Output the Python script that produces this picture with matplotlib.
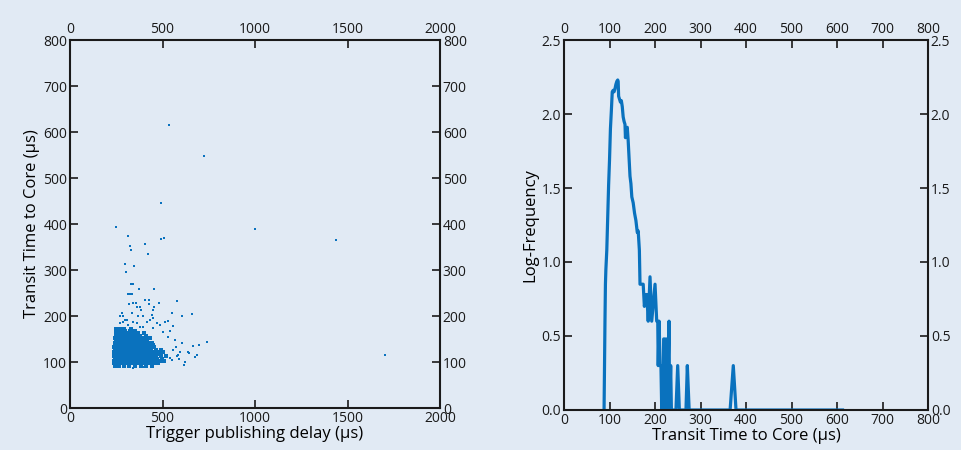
import matplotlib.pyplot as plt

# couleurs
bg = '#e1eaf4'
blue = '#0a72be'

# --- nuage de points : délai de publication vs temps de transit ---
# points isolés
outlier_delay = [535, 724, 492, 1000, 1438, 249, 1703, 313, 322, 330, 404, 492, 508, 420,
                 296, 304, 348, 330, 340, 371, 456, 312, 326, 335, 407, 429, 578, 479,
                 320, 342, 355, 380, 425, 553, 661, 607, 740, 695, 667, 686, 676, 641, 618,
                 360, 384, 456, 447, 279, 288, 270, 297, 306, 337, 369, 393, 441, 450,
                 514, 531, 555, 243, 256, 270, 285, 486, 472, 414, 432, 342, 360, 315,
                 378, 396, 450, 504, 540, 531, 567, 604, 639, 594, 585, 558, 573, 576,
                 591, 540, 549, 396, 342, 270, 243, 622]
outlier_transit = [615, 548, 446, 389, 365, 393, 115, 373, 352, 343, 356, 368, 370, 335,
                   312, 296, 308, 269, 269, 258, 258, 248, 247, 248, 235, 235, 233, 229,
                   227, 228, 228, 220, 226, 206, 205, 199, 144, 138, 135, 115, 111, 120, 93,
                   220, 213, 220, 213, 206, 199, 199, 191, 191, 206, 199, 199, 202, 195,
                   186, 189, 178, 173, 173, 184, 188, 180, 184, 188, 191, 188, 184, 180,
                   177, 177, 173, 166, 168, 155, 148, 141, 122, 122, 115, 126, 132, 112,
                   107, 108, 104, 90, 88, 91, 93, 100]

# coeur dense du nuage : un niveau de transit -> délais observés
core_transit = [92, 97, 102, 107, 112, 117, 122, 127, 132, 137, 142, 147, 152, 157, 162, 167, 172]
core_delay = [
    [245, 262, 290, 318, 352, 385, 410, 445],
    [240, 255, 272, 288, 305, 322, 340, 358, 376, 395, 412, 430, 452, 478],
    [238, 250, 266, 281, 297, 313, 329, 345, 361, 377, 393, 409, 425, 441, 460, 485, 510],
    [243, 258, 274, 290, 306, 322, 338, 354, 370, 386, 402, 418, 434, 452, 472, 498],
    [238, 251, 266, 282, 298, 314, 330, 346, 362, 378, 394, 410, 426, 443, 463, 490, 520],
    [243, 258, 274, 290, 306, 322, 338, 354, 370, 386, 402, 418, 436, 456, 480],
    [240, 251, 266, 282, 298, 314, 330, 346, 362, 378, 394, 410, 428, 448, 470, 505],
    [245, 258, 274, 290, 306, 322, 338, 354, 370, 386, 402, 420, 440, 462, 490],
    [240, 252, 266, 282, 298, 314, 330, 346, 362, 378, 394, 412, 432, 455],
    [246, 260, 275, 291, 307, 323, 339, 355, 371, 387, 405, 425, 448],
    [242, 254, 268, 284, 300, 316, 332, 348, 364, 382, 400, 420, 442],
    [248, 262, 278, 294, 310, 326, 342, 360, 378, 398, 418],
    [244, 256, 272, 288, 304, 320, 338, 356, 376, 396, 430],
    [250, 266, 282, 300, 318, 336, 356, 380, 410],
    [246, 262, 280, 300, 322, 345, 370, 400],
    [256, 276, 298, 325, 352],
    [250, 268, 290, 330],
]

# --- histogramme (log10 des effectifs) du temps de transit ---
transit_bins = [88, 89, 90, 91, 92, 94, 96, 98, 100, 102, 104, 106, 108, 110, 112, 114, 116,
                118, 119, 120, 122, 124, 126, 128, 130, 132, 134, 135, 137, 139, 141, 143,
                145, 147, 149, 152, 155, 158, 161, 163, 165.6, 167, 174, 176.6, 180, 182,
                185, 189, 192.7, 200, 203.7, 206, 207, 209, 211, 213, 214.7, 216, 217, 219,
                221, 222, 223, 225, 227, 229, 230.8, 232, 234.4, 236, 238.8, 246, 249.8,
                253.5, 268, 271, 275, 365, 372, 378, 612]
log_freq = [0.0, 0.30, 0.60, 0.85, 0.95, 1.08, 1.30, 1.52, 1.69, 1.90, 2.02, 2.15, 2.16, 2.15,
            2.17, 2.20, 2.22, 2.23, 2.22, 2.12, 2.10, 2.08, 2.09, 2.05, 1.98, 1.95, 1.93, 1.84,
            1.90, 1.91, 1.82, 1.70, 1.58, 1.53, 1.44, 1.40, 1.33, 1.28, 1.20, 1.21, 1.08, 0.85,
            0.85, 0.70, 0.78, 0.78, 0.60, 0.90, 0.60, 0.85, 0.60, 0.60, 0.30, 0.60, 0.30, 0.30,
            0.0, 0.30, 0.0, 0.48, 0.48, 0.0, 0.30, 0.48, 0.0, 0.30, 0.60, 0.0, 0.30, 0.0, 0.0,
            0.0, 0.30, 0.0, 0.0, 0.30, 0.0, 0.0, 0.30, 0.0, 0.0]

plt.rcParams['font.family'] = ['Open Sans', 'DejaVu Sans']

fig = plt.figure(figsize=(9.62, 4.5), dpi=100, facecolor=bg)
ax1 = fig.add_axes([0.0728, 0.0933, 0.3846, 0.8178], facecolor=bg)
ax2 = fig.add_axes([0.5863, 0.0889, 0.3784, 0.8222], facecolor=bg)

# nuage : coeur dense puis points isolés
core_x, core_y = [], []
for t, xs in zip(core_transit, core_delay):
    core_x += xs
    core_y += [t] * len(xs)
ax1.plot(core_x, core_y, 's', color=blue, markersize=2.9, markeredgewidth=0)
ax1.plot(outlier_delay, outlier_transit, 's', color=blue, markersize=2.1, markeredgewidth=0)
ax1.set_xlim(0, 2000)
ax1.set_ylim(0, 800)
ax1.set_xticks([0, 500, 1000, 1500, 2000])
ax1.set_yticks(range(0, 801, 100))
ax1.set_xlabel('Trigger publishing delay (µs)', fontsize=12, labelpad=0)
ax1.set_ylabel('Transit Time to Core (µs)', fontsize=12, labelpad=2)

# histogramme
ax2.plot(transit_bins, log_freq, '-', color=blue, linewidth=2.3)
ax2.set_xlim(0, 800)
ax2.set_ylim(0, 2.5)
ax2.set_xticks(range(0, 801, 100))
ax2.set_yticks([0, 0.5, 1.0, 1.5, 2.0, 2.5])
ax2.set_yticklabels(['0.0', '0.5', '1.0', '1.5', '2.0', '2.5'])
ax2.set_xlabel('Transit Time to Core (µs)', fontsize=12, labelpad=0)
ax2.set_ylabel('Log-Frequency', fontsize=12, labelpad=2)

for ax in (ax1, ax2):
    ax.tick_params(direction='in', top=True, right=True, labeltop=True, labelright=True,
                   length=6, width=1.2, labelsize=10, pad=2, colors='#1a1a1a')
    for s in ax.spines.values():
        s.set_linewidth(1.5)
        s.set_color('#1a1a1a')

fig.savefig('out.png', dpi=100, facecolor=bg)
